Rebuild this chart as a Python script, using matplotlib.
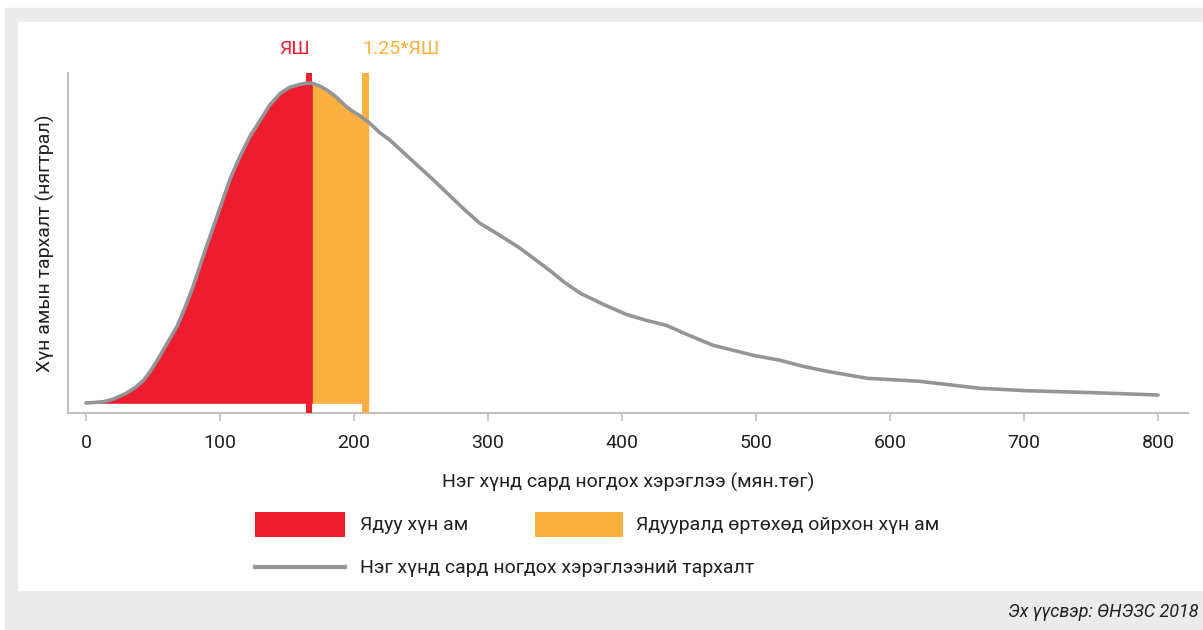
import matplotlib
matplotlib.use('Agg')
import matplotlib.pyplot as plt
from matplotlib.patches import Rectangle
from matplotlib.lines import Line2D
import numpy as np

plt.rcParams['font.family'] = ['Liberation Sans Narrow', 'Roboto', 'DejaVu Sans']

# Consumption per person per month (thousand tugrik) and relative density
consumption = np.array([0, 6, 13, 20, 30, 37, 43, 49, 55, 61, 68, 74, 80, 85, 90, 96, 102, 108,
                        115, 122, 130, 137, 145, 152, 160, 164, 169, 175, 180, 187, 194, 199,
                        204, 211, 219, 227, 244, 258, 272, 283, 294, 310, 324, 335, 346, 357,
                        369, 386, 403, 418, 433, 450, 468, 483, 498, 518, 535, 553, 583, 622,
                        667, 702, 752, 800])
density = np.array([0.3, 0.8, 1.6, 4, 10, 16, 23, 34, 47, 61, 77, 96, 117, 137, 157, 180, 203, 226,
                    247, 266, 283, 298, 310, 316, 319, 320, 320, 317, 313, 306, 297, 292,
                    288, 281, 271, 263, 242, 225, 207, 193, 180, 167, 155, 144, 133, 121,
                    110, 99, 89, 83, 78, 68, 58, 53, 48, 43, 37, 32, 25, 22,
                    15, 12.6, 10.6, 8.3])

poverty_line = 169
near_poor_line = 211
x_ticks = [0, 100, 200, 300, 400, 500, 600, 700, 800]

red = '#ED1C2E'
orange = '#FBB040'
gray = '#939598'
txt = '#231F20'
spine_c = '#BFBFBF'
fs = 14

W, H = 1203, 630
fig = plt.figure(figsize=(W / 100, H / 100), dpi=100)
fig.patch.set_facecolor('white')


def px(x0, y0, x1, y1):
    # pixel box -> figure fraction rect
    return (x0 / W, 1 - y1 / H, (x1 - x0) / W, (y1 - y0) / H)


def fx(x):
    return x / W


def fy(y):
    return 1 - y / H


# background panels
r = px(5, 8, 1203, 630)
fig.add_artist(Rectangle(r[:2], r[2], r[3], transform=fig.transFigure, color='#EBEBEB', zorder=-10))
r = px(18, 22, 1202, 590)
fig.add_artist(Rectangle(r[:2], r[2], r[3], transform=fig.transFigure, color='white', zorder=-9))

ax = fig.add_axes(px(68, 73, 1188, 413))
ax.set_facecolor('none')

red_mask = consumption <= poverty_line
orange_mask = (consumption >= poverty_line) & (consumption <= near_poor_line)
ax.fill_between(consumption, 0, density, where=red_mask, color=red, lw=0, zorder=2)
ax.fill_between(consumption, 0, density, where=orange_mask, color=orange, lw=0, zorder=2)
ax.axvspan(poverty_line - 5, poverty_line, color=red, lw=0, zorder=3)
ax.axvspan(near_poor_line - 5, near_poor_line, color=orange, lw=0, zorder=3)
ax.plot(consumption, density, color=gray, lw=2.6, zorder=4, solid_capstyle='round',
        solid_joinstyle='round')

ax.text(poverty_line - 2, 1.07, 'ЯШ', transform=ax.get_xaxis_transform(), ha='right', va='center',
        color=red, fontsize=fs)
ax.text(near_poor_line - 5, 1.07, '1.25*ЯШ', transform=ax.get_xaxis_transform(), ha='left', va='center',
        color=orange, fontsize=fs)

ax.set_xlim(-13.4, 822.4)
ax.set_ylim(-9.7, 330.3)
ax.set_xticks(x_ticks)
ax.set_yticks([])
ax.tick_params(axis='x', length=6, width=1.2, color=spine_c, labelsize=fs, labelcolor=txt, pad=9)
for s in ['top', 'right']:
    ax.spines[s].set_visible(False)
for s in ['left', 'bottom']:
    ax.spines[s].set_color(spine_c)
    ax.spines[s].set_linewidth(1.5)

ax.set_xlabel('Нэг хүнд сард ногдох хэрэглээ (мян.төг)', fontsize=fs, color=txt, labelpad=15)
ax.set_ylabel('Хүн амын тархалт (нягтрал)', fontsize=fs, color=txt, labelpad=9)

# legend
r = px(255, 512, 345, 537)
fig.add_artist(Rectangle(r[:2], r[2], r[3], transform=fig.transFigure, color=red, lw=0))
fig.text(fx(360), fy(525), 'Ядуу хүн ам', fontsize=fs, color=txt, va='center', ha='left')
r = px(535, 512, 623, 537)
fig.add_artist(Rectangle(r[:2], r[2], r[3], transform=fig.transFigure, color=orange, lw=0))
fig.text(fx(636), fy(525), 'Ядууралд өртөхөд ойрхон хүн ам', fontsize=fs, color=txt, va='center', ha='left')
fig.add_artist(Line2D([fx(255), fx(345)], [fy(567), fy(567)], transform=fig.transFigure, color=gray, lw=3))
fig.text(fx(360), fy(568), 'Нэг хүнд сард ногдох хэрэглээний тархалт', fontsize=fs, color=txt,
         va='center', ha='left')

fig.text(fx(1199), fy(612), 'Эх үүсвэр: ӨНЭЗС 2018', fontsize=13, color=txt, style='italic',
         va='center', ha='right')

fig.savefig('out.png', dpi=100, facecolor=fig.get_facecolor())
